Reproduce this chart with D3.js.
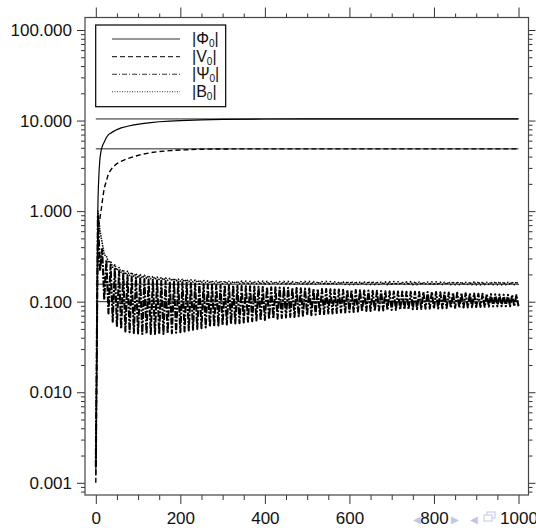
<!DOCTYPE html>
<html>
<head>
<meta charset="utf-8">
<script src="https://cdn.jsdelivr.net/npm/d3@7"></script>
<style>
  html, body { margin: 0; padding: 0; background: #fff; }
  svg { display: block; }
  text { font-family: "Liberation Sans", Arial, sans-serif; }
</style>
</head>
<body>
<svg id="chart" width="536" height="528"></svg>
<script>
// Time samples for the smooth amplitudes
const tSmooth = [0, 1, 2, 3, 4, 5, 6, 8, 10, 13, 16, 20, 25, 30, 40, 50, 60, 75, 90, 110, 130, 150, 175, 200, 250, 300, 400, 500, 600, 700, 800, 900, 1000];
// |Phi_0|
const phiVals = [0.0012, 0.004, 0.02, 0.1, 0.4, 1.2, 1.8, 2.9, 3.9, 4.8, 5.3, 5.8, 6.5, 7.0, 7.5, 7.95, 8.3, 8.65, 8.95, 9.25, 9.5, 9.7, 9.88, 10.0, 10.18, 10.3, 10.4, 10.42, 10.42, 10.42, 10.42, 10.42, 10.42];
// |V_0|
const vVals = [0.001, 0.003, 0.012, 0.05, 0.2, 0.45, 0.6, 0.75, 0.85, 1.05, 1.35, 1.8, 2.15, 2.6, 3.05, 3.35, 3.55, 3.8, 4.0, 4.25, 4.42, 4.55, 4.65, 4.73, 4.83, 4.86, 4.87, 4.87, 4.87, 4.87, 4.87, 4.87, 4.87];

// Oscillating amplitudes, sampled every 5 time units (successive maxima / minima)
const bandStep = 5;
const psiVals = [0.0015,
  0.9, 0.22, 0.38, 0.105, 0.29, 0.074, 0.255, 0.06, 0.235, 0.054,
  0.218, 0.05, 0.205, 0.047, 0.196, 0.046, 0.19, 0.045, 0.185, 0.0445,
  0.181, 0.044, 0.178, 0.044, 0.176, 0.044, 0.174, 0.044, 0.172, 0.044,
  0.170, 0.044, 0.169, 0.0445, 0.167, 0.045, 0.166, 0.0455, 0.165, 0.046,
  0.1635, 0.047, 0.162, 0.048, 0.1605, 0.049, 0.159, 0.050, 0.158, 0.051,
  0.157, 0.052, 0.156, 0.053, 0.155, 0.0535, 0.154, 0.0545, 0.153, 0.055,
  0.152, 0.056, 0.1515, 0.057, 0.151, 0.0575, 0.150, 0.058, 0.149, 0.059,
  0.148, 0.060, 0.1475, 0.061, 0.147, 0.062, 0.146, 0.062, 0.1455, 0.063,
  0.145, 0.064, 0.1445, 0.065, 0.144, 0.065, 0.1435, 0.066, 0.143, 0.067,
  0.1425, 0.068, 0.142, 0.068, 0.141, 0.069, 0.1405, 0.070, 0.140, 0.071,
  0.1395, 0.071, 0.139, 0.072, 0.1385, 0.073, 0.138, 0.073, 0.1375, 0.074,
  0.137, 0.074, 0.1365, 0.075, 0.136, 0.076, 0.1355, 0.076, 0.135, 0.077,
  0.1345, 0.077, 0.134, 0.078, 0.1335, 0.078, 0.133, 0.079, 0.1325, 0.079,
  0.132, 0.0795, 0.1315, 0.080, 0.131, 0.080, 0.1305, 0.0805, 0.130, 0.081,
  0.1297, 0.0813, 0.1294, 0.0816, 0.1291, 0.082, 0.1288, 0.0823, 0.1285, 0.0826,
  0.1282, 0.083, 0.128, 0.0833, 0.128, 0.0836, 0.128, 0.084, 0.128, 0.084,
  0.1275, 0.0843, 0.127, 0.0846, 0.1265, 0.085, 0.126, 0.0853, 0.1255, 0.0856,
  0.125, 0.086, 0.1245, 0.0863, 0.124, 0.0866, 0.1235, 0.087, 0.123, 0.0873,
  0.1225, 0.0876, 0.122, 0.088, 0.1215, 0.0883, 0.121, 0.0886, 0.1205, 0.0888,
  0.120, 0.089, 0.1195, 0.089, 0.119, 0.089, 0.1185, 0.089, 0.118, 0.089];
const bVals = [0.0015,
  1.0, 0.6, 0.45, 0.33, 0.32, 0.27, 0.28, 0.24, 0.255, 0.222,
  0.238, 0.21, 0.225, 0.2, 0.217, 0.195, 0.21, 0.19, 0.204, 0.186,
  0.2, 0.183, 0.196, 0.181, 0.193, 0.179, 0.19, 0.177, 0.187, 0.176,
  0.185, 0.174, 0.183, 0.172, 0.181, 0.171, 0.179, 0.17, 0.178, 0.168,
  0.177, 0.167, 0.175, 0.166, 0.174, 0.165, 0.173, 0.164, 0.172, 0.163,
  0.171, 0.162, 0.170, 0.161, 0.170, 0.160, 0.169, 0.159, 0.169, 0.158,
  0.169, 0.158, 0.168, 0.159, 0.167, 0.160, 0.168, 0.158, 0.169, 0.157,
  0.169, 0.156, 0.168, 0.157, 0.167, 0.158, 0.168, 0.156, 0.169, 0.155,
  0.168, 0.156, 0.167, 0.157, 0.166, 0.158, 0.167, 0.156, 0.168, 0.155,
  0.168, 0.155, 0.167, 0.156, 0.166, 0.157, 0.167, 0.156, 0.168, 0.155,
  0.168, 0.155, 0.167, 0.156, 0.166, 0.157, 0.167, 0.155, 0.168, 0.154,
  0.167, 0.155, 0.166, 0.156, 0.165, 0.157, 0.166, 0.155, 0.167, 0.154,
  0.167, 0.154, 0.166, 0.155, 0.165, 0.156, 0.166, 0.155, 0.167, 0.154,
  0.167, 0.154, 0.166, 0.155, 0.165, 0.156, 0.166, 0.154, 0.167, 0.153,
  0.167, 0.154, 0.166, 0.155, 0.165, 0.156, 0.166, 0.154, 0.167, 0.153,
  0.166, 0.154, 0.165, 0.155, 0.164, 0.156, 0.165, 0.154, 0.166, 0.153,
  0.166, 0.154, 0.165, 0.155, 0.164, 0.156, 0.165, 0.154, 0.166, 0.153,
  0.166, 0.154, 0.165, 0.155, 0.164, 0.155, 0.165, 0.154, 0.166, 0.153,
  0.166, 0.153, 0.165, 0.154, 0.164, 0.155, 0.165, 0.154, 0.166, 0.153,
  0.166, 0.153, 0.165, 0.154, 0.164, 0.155, 0.165, 0.154, 0.166, 0.153];

// Limiting values drawn as horizontal guide lines
const limitVals = [10.42, 4.87, 0.156, 0.1];

// Axis ticks
const xMajorTicks = [0, 200, 400, 600, 800, 1000];
const xMinorTicks = [50, 100, 150, 250, 300, 350, 450, 500, 550, 650, 700, 750, 850, 900, 950];
const yMajorTicks = [0.001, 0.01, 0.1, 1, 10, 100];
const yTickLabels = ["0.001", "0.010", "0.100", "1.000", "10.000", "100.000"];

const legendNames = ["Φ", "V", "Ψ", "B"];
const legendDash = [null, "5,3", "5,2,1,2", "1,1.5"];

const svg = d3.select("#chart");
const frame = { left: 85, right: 528.5, top: 17.5, bottom: 495 };

const x = d3.scaleLinear().domain([0, 1000]).range([95.8, 518.5]);
const y = d3.scaleLog().domain([0.001, 100]).range([482.8, 30]);

// minor log ticks that fall inside the frame
const yMinorTicks = [];
for (let k = -4; k <= 2; k++) {
  for (let m = 2; m <= 9; m++) {
    const v = m * Math.pow(10, k);
    const py = y(v);
    if (py >= frame.top && py <= frame.bottom) yMinorTicks.push(v);
  }
}

svg.append("defs").append("clipPath").attr("id", "plotClip")
  .append("rect")
  .attr("x", frame.left).attr("y", frame.top)
  .attr("width", frame.right - frame.left).attr("height", frame.bottom - frame.top);

const tickColor = "#333";
function styleAxis(g) {
  g.select(".domain").remove();
  g.selectAll(".tick line").attr("stroke", tickColor).attr("stroke-width", 1);
}
const fontFam = "'Liberation Sans', Arial, sans-serif";

// bottom axis
svg.append("g").attr("transform", `translate(0,${frame.bottom})`)
  .call(d3.axisBottom(x).tickValues(xMajorTicks).tickSize(9).tickPadding(8).tickFormat(d3.format("d")))
  .call(styleAxis)
  .call(g => g.selectAll("text").attr("font-size", 17).attr("fill", "#111").attr("font-family", fontFam));
svg.append("g").attr("transform", `translate(0,${frame.bottom})`)
  .call(d3.axisBottom(x).tickValues(xMinorTicks).tickSize(5).tickFormat(""))
  .call(styleAxis);

// top axis
svg.append("g").attr("transform", `translate(0,${frame.top})`)
  .call(d3.axisTop(x).tickValues(xMajorTicks).tickSize(10).tickFormat(""))
  .call(styleAxis);
svg.append("g").attr("transform", `translate(0,${frame.top})`)
  .call(d3.axisTop(x).tickValues(xMinorTicks).tickSize(4).tickFormat(""))
  .call(styleAxis);

// left axis
svg.append("g").attr("transform", `translate(${frame.left},0)`)
  .call(d3.axisLeft(y).tickValues(yMajorTicks).tickSize(8).tickPadding(5)
    .tickFormat((d, i) => yTickLabels[i]))
  .call(styleAxis)
  .call(g => g.selectAll("text").attr("font-size", 17).attr("fill", "#111").attr("font-family", fontFam));
svg.append("g").attr("transform", `translate(${frame.left},0)`)
  .call(d3.axisLeft(y).tickValues(yMinorTicks).tickSize(4).tickFormat(""))
  .call(styleAxis);

// right axis
svg.append("g").attr("transform", `translate(${frame.right},0)`)
  .call(d3.axisRight(y).tickValues(yMajorTicks).tickSize(7).tickFormat(""))
  .call(styleAxis);
svg.append("g").attr("transform", `translate(${frame.right},0)`)
  .call(d3.axisRight(y).tickValues(yMinorTicks).tickSize(4).tickFormat(""))
  .call(styleAxis);

// plot frame
svg.append("rect")
  .attr("x", frame.left).attr("y", frame.top)
  .attr("width", frame.right - frame.left).attr("height", frame.bottom - frame.top)
  .attr("fill", "none").attr("stroke", "#444").attr("stroke-width", 1.2);

const plot = svg.append("g").attr("clip-path", "url(#plotClip)");

// limit lines
plot.selectAll("line.limit").data(limitVals).join("line")
  .attr("class", "limit")
  .attr("x1", x(0)).attr("x2", x(1000))
  .attr("y1", d => y(d)).attr("y2", d => y(d))
  .attr("stroke", "#222").attr("stroke-width", 1);

const line = d3.line().x(d => x(d[0])).y(d => y(d[1]));

const smoothSeries = [
  { vals: phiVals, dash: null, width: 1.2 },
  { vals: vVals, dash: "5,3", width: 1.4 }
];
smoothSeries.forEach(s => {
  plot.append("path")
    .datum(tSmooth.map((t, i) => [t, s.vals[i]]))
    .attr("d", line)
    .attr("fill", "none").attr("stroke", "#000")
    .attr("stroke-width", s.width)
    .attr("stroke-dasharray", s.dash);
});

const bandSeries = [
  { vals: bVals, dash: "1.5,1", width: 1.5 },
  { vals: psiVals, dash: "7,1.5,2,1.5", width: 2.1 }
];
bandSeries.forEach(s => {
  plot.append("path")
    .datum(s.vals.map((v, i) => [i * bandStep, v]))
    .attr("d", line)
    .attr("fill", "none").attr("stroke", "#000")
    .attr("stroke-width", s.width)
    .attr("stroke-linejoin", "round")
    .attr("stroke-dasharray", s.dash);
});

// legend
const lg = svg.append("g");
lg.append("rect")
  .attr("x", 95.7).attr("y", 25).attr("width", 130).attr("height", 81.7)
  .attr("fill", "#fff").attr("stroke", "#000").attr("stroke-width", 1.2);
legendNames.forEach((name, i) => {
  const ry = 39 + i * 17.6;
  lg.append("line")
    .attr("x1", 112).attr("x2", 180).attr("y1", ry).attr("y2", ry)
    .attr("stroke", "#333").attr("stroke-width", 1.1)
    .attr("stroke-dasharray", legendDash[i]);
  const t = lg.append("text")
    .attr("x", 192).attr("y", ry + 5)
    .attr("font-size", 16).attr("fill", "#111");
  t.append("tspan").text("|" + name);
  t.append("tspan").attr("font-size", 10).attr("dy", 3).text("0");
  t.append("tspan").attr("dy", -3).text("|");
});

// presentation navigation glyphs along the lower edge
const navColor = "#c4c4ec";
const nav = svg.append("g").attr("fill", navColor).attr("font-family", "'DejaVu Sans', sans-serif");
nav.append("text").attr("x", 413).attr("y", 523).attr("font-size", 10).text("◀");
nav.append("text").attr("x", 451).attr("y", 523).attr("font-size", 10).text("▶");
nav.append("text").attr("x", 470).attr("y", 523).attr("font-size", 10).text("◀");
nav.append("rect").attr("x", 487).attr("y", 512).attr("width", 8).attr("height", 6)
  .attr("fill", "none").attr("stroke", navColor);
nav.append("rect").attr("x", 484).attr("y", 515).attr("width", 8).attr("height", 6)
  .attr("fill", "#fff").attr("stroke", navColor);
</script>
</body>
</html>
